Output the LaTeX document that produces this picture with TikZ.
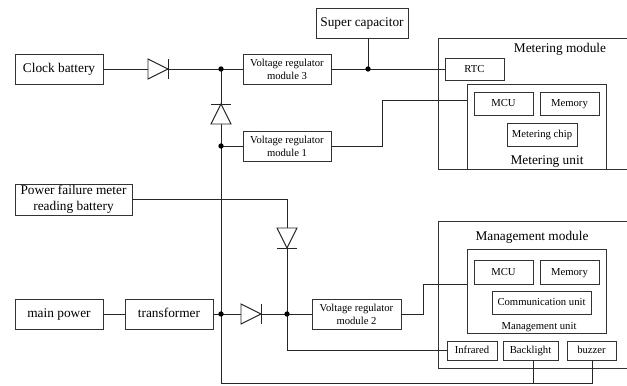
\documentclass[tikz,border=0pt]{standalone}
\usepackage{fontspec}
\setmainfont{Liberation Serif}
\usetikzlibrary{calc}
\tikzset{
  box/.style 2 args={draw=black!80,line width=0.7pt,inner sep=0pt,outer sep=0pt,align=center,
    minimum width=#1*0.75pt,minimum height=#2*0.75pt},
  small/.style={font=\fontsize{8}{9.6}\selectfont},
  level/.style={text height=1.45ex,text depth=0.45ex},
  wire/.style={draw=black!85,line width=0.7pt},
  diode/.pic={
    \coordinate (-in) at (-10,0);
    \coordinate (-out) at (10,0);
    \draw[wire,fill=white,line join=miter] (-10,-10) -- (10,0) -- (-10,10) -- cycle;
    \draw[wire] (10,-10) -- (10,10);
  }
}
\begin{document}
\begin{tikzpicture}[x=0.75pt,y=-0.75pt,
          every node/.style={font=\fontsize{10}{12}\selectfont}]
        \clip (0,0) rectangle (627,385);
        \node[box={88}{30},level] (clock) at (59,69) {Clock battery};
        \node[box={88}{30},small] (reg3) at (287,69) {Voltage regulator\\module 3};
        \node[box={88}{30},small] (reg1) at (287,146) {Voltage regulator\\module 1};
        \node[box={92}{30},level] (supercap) at (362,23) {Super capacitor};
        \node[box={117}{31}] (failbat) at (73.5,199.5) {Power failure meter\\reading battery};
        \node[box={88}{30},level] (mains) at (59,314) {main power};
        \node[box={88}{30},level] (trans) at (169,314) {transformer};
        \node[box={89}{30},small] (reg2) at (356.5,314) {Voltage regulator\\module 2};

        \node[box={212}{131}] (meter) at (544,103.5) {};
        \node[level] at (560,49) {Metering module};
        \node[box={59}{22},small,level] (rtc) at (474.5,69) {RTC};
        \node[box={139}{85}] (meterunit) at (536.5,126.5) {};
        \node[box={59}{23},small,level] (mcua) at (503.5,103.5) {MCU};
        \node[box={59}{23},small,level] (mema) at (569.5,103.5) {Memory};
        \node[box={70}{23},small,level] (chip) at (542,134.5) {Metering chip};
        \node[level] at (547,161) {Metering unit};

        \node[box={212}{147}] (manage) at (544,294.5) {};
        \node[level] at (532,237) {Management module};
        \node[box={139}{84}] (manageunit) at (536.5,291) {};
        \node[box={59}{24},small,level] (mcub) at (503.5,272) {MCU};
        \node[box={59}{24},small,level] (memb) at (569.5,272) {Memory};
        \node[box={99}{23},small,level] (comm) at (541.5,302.5) {Communication unit};
        \node[small,level] at (539,326) {Management unit};
        \node[box={50}{19},small,level] (infra) at (472,350.5) {Infrared};
        \node[box={55}{19},small,level] (back) at (530.5,350.5) {Backlight};
        \node[box={49}{19},small,level] (buzz) at (591.5,350.5) {buzzer};

        \coordinate (j1) at (221,69);
        \coordinate (j2) at (221,146);
        \coordinate (j3) at (221,314);
        \coordinate (j4) at (287,314);
        \coordinate (j5) at (368,69);
        \coordinate (corner) at (221,383);
        \coordinate (backin) at (533,360);
        \coordinate (buzzin) at (592,360);
        \coordinate (unitin) at (467,100);
        \coordinate (unitinb) at (467,284);

        \draw[wire] (j1) -- (corner) -- (buzzin |- corner) -- (buzzin);
        \draw[wire] (backin) -- (backin |- corner);
        \draw[wire] (clock) -- (reg3);
        \draw[wire] (reg3) -- (rtc);
        \draw[wire] (supercap.south -| j5) -- (j5);
        \draw[wire] (j2) -- (reg1);
        \draw[wire] (reg1) -- (382,146) |- (unitin);
        \draw[wire] (failbat) -| (j4);
        \draw[wire] (j4) |- (infra);
        \draw[wire] (mains) -- (trans);
        \draw[wire] (trans) -- (reg2);
        \draw[wire] (reg2) -- (423,314) |- (unitinb);

        \pic (d1) at (158,69) {diode};
        \pic[rotate=90] (d2) at (221,114) {diode};
        \pic[rotate=-90] (d3) at (287,238) {diode};
        \pic (d4) at (251,314) {diode};
        \foreach \j in {j1,j2,j3,j4,j5} {
          \fill[black] (\j) circle (2pt);
        }
\end{tikzpicture}
\end{document}
